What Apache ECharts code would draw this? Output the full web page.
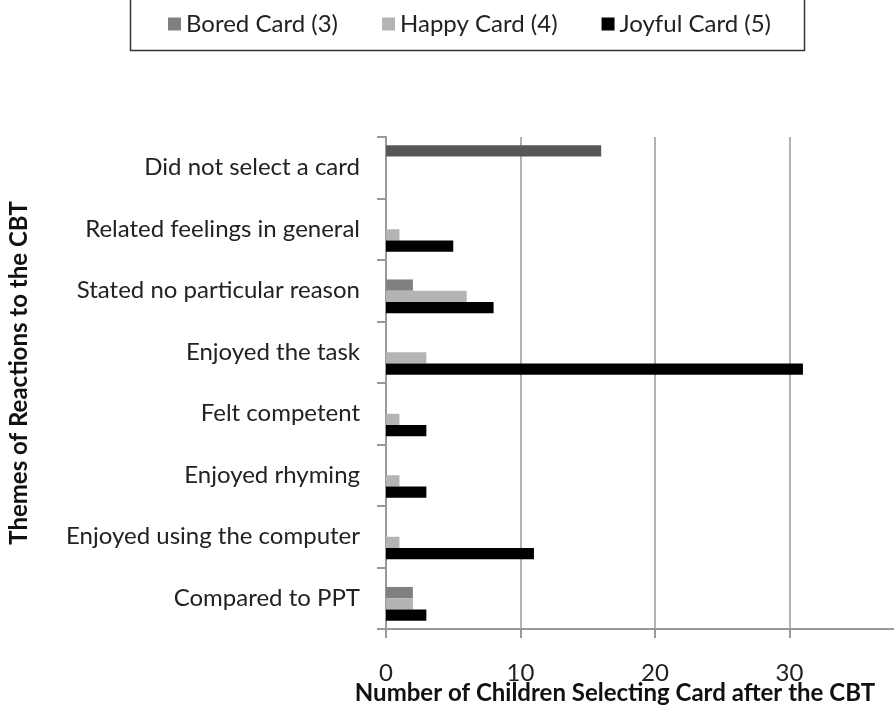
<!DOCTYPE html>
<html>
<head>
<meta charset="utf-8">
<script src="https://cdn.jsdelivr.net/npm/echarts@6/dist/echarts.min.js"></script>
<style>
  html, body { margin: 0; padding: 0; background: #fff; }
  #chart { width: 894px; height: 705px; }
</style>
</head>
<body>
<div id="chart"></div>
<script>
// Categories, top to bottom
const themes = [
  'Did not select a card',
  'Related feelings in general',
  'Stated no particular reason',
  'Enjoyed the task',
  'Felt competent',
  'Enjoyed rhyming',
  'Enjoyed using the computer',
  'Compared to PPT'
]

// Children selecting each card per theme
const noCard = [16, null, null, null, null, null, null, null]
const bored = [0, 0, 2, 0, 0, 0, 0, 2]
const happy = [0, 1, 6, 3, 1, 1, 1, 2]
const joyful = [0, 5, 8, 31, 3, 3, 11, 3]

const xTicks = [0, 10, 20, 30, 40]

const font = 'Lato'

const chart = echarts.init(document.getElementById('chart'))

const bar = (name, data, color) => ({
  name: name,
  type: 'bar',
  data: data,
  barWidth: 11.3,
  barGap: '0%',
  itemStyle: { color: color },
  silent: true
})

chart.setOption({
  animation: false,
  graphic: [{
    type: 'rect',
    left: 128,
    top: -10,
    shape: { width: 674, height: 58 },
    style: { fill: 'none', stroke: '#333', lineWidth: 1.5 }
  }],
  legend: {
    data: ['Bored Card (3)', 'Happy Card (4)', 'Joyful Card (5)'],
    top: 7,
    left: 163,
    itemWidth: 13,
    itemHeight: 13,
    itemGap: 44,
    icon: 'rect',
    textStyle: { fontFamily: font, fontSize: 24, color: '#222' }
  },
  // plot runs past the right edge, as in the cropped original
  grid: { left: 386, top: 137, height: 492, width: 538, outerBoundsMode: 'none' },
  xAxis: {
    type: 'value',
    min: xTicks[0],
    max: xTicks[xTicks.length - 1],
    interval: 10,
    name: 'Number of Children Selecting Card after the CBT',
    nameLocation: 'middle',
    nameGap: 52,
    nameMoveOverlap: false,
    nameTextStyle: {
      fontFamily: font, fontSize: 24, fontWeight: 'bold', color: '#111',
      padding: [0, 80, 0, 0]
    },
    axisLine: { show: true, lineStyle: { color: '#999', width: 2 } },
    axisTick: { show: true, length: 9, lineStyle: { color: '#999', width: 2 } },
    axisLabel: { margin: 32, fontFamily: font, fontSize: 24, color: '#222' },
    splitLine: { show: true, lineStyle: { color: '#999', width: 1.5 } }
  },
  yAxis: {
    type: 'category',
    data: themes,
    inverse: true,
    name: 'Themes of Reactions to the CBT',
    nameLocation: 'middle',
    nameRotate: 90,
    nameGap: 355,
    nameMoveOverlap: false,
    nameTextStyle: {
      fontFamily: font, fontSize: 24, fontWeight: 'bold', color: '#111',
      padding: [0, 0, 0, 20]
    },
    axisLine: { show: true, lineStyle: { color: '#999', width: 2 } },
    axisTick: { show: true, length: 9, lineStyle: { color: '#999', width: 2 } },
    axisLabel: { margin: 26, fontFamily: font, fontSize: 24, color: '#222' }
  },
  series: [
    bar('Did not select a card', noCard, '#575757'),
    bar('Bored Card (3)', bored, '#808080'),
    bar('Happy Card (4)', happy, '#b4b4b4'),
    bar('Joyful Card (5)', joyful, '#000000')
  ]
})
</script>
</body>
</html>
